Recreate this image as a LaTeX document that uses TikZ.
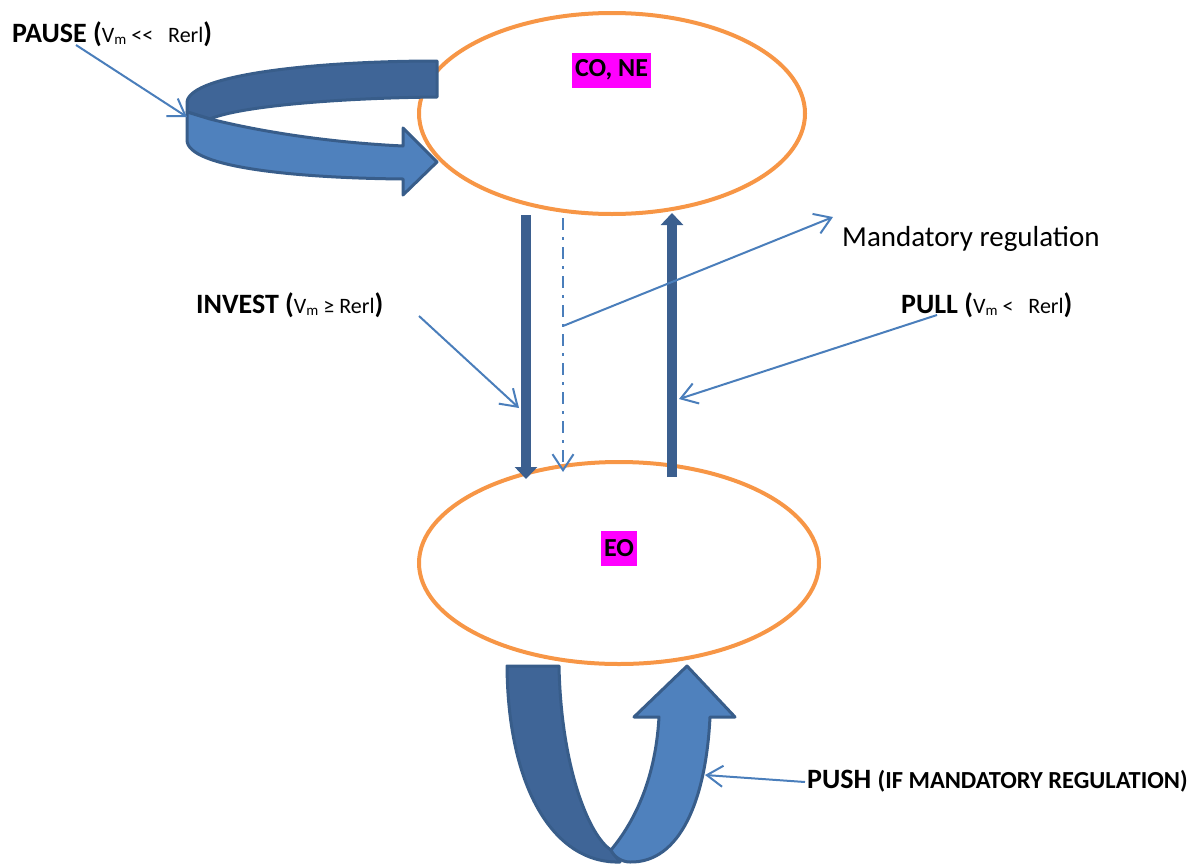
\documentclass[tikz,border=0pt]{standalone}
\usepackage{fontspec}
\setmainfont{Carlito}
\usetikzlibrary{shapes.geometric,arrows.meta}

\definecolor{ringorange}{HTML}{F79646}
\definecolor{tagmagenta}{HTML}{FF00FF}
\definecolor{banddark}{HTML}{3F6597}
\definecolor{bandlight}{HTML}{4F81BD}
\definecolor{bandedge}{HTML}{385D8A}
\definecolor{flowblue}{HTML}{3B5F8F}
\definecolor{linkblue}{HTML}{4A7EBB}

% condition text in brackets and the V_m symbol
\newcommand\condtext[1]{{\fontsize{22}{24}\selectfont #1}}
\newcommand\vsym{V\raisebox{-2pt}{\fontsize{15}{15}\selectfont m}}

\begin{document}
\begin{tikzpicture}[x=1pt,y=-1pt,
  ring/.style={ellipse, draw=ringorange, line width=4pt, inner sep=0pt},
  tagbox/.style={fill=tagmagenta, font=\fontsize{26}{30}\selectfont\bfseries,
    inner xsep=3pt, inner ysep=0pt, minimum height=35pt},
  lbl/.style={inner sep=0pt, anchor=base west, font=\fontsize{28}{32}\selectfont},
  flow/.style={draw=flowblue, line width=10pt, -{Triangle[length=12pt,width=22pt]}},
  link/.style={draw=linkblue, line width=2pt, -{Straight Barb[length=16pt,width=21pt]}},
  dashlink/.style={link, dash pattern=on 12pt off 7pt on 3pt off 7pt},
  band/.style={draw=bandedge, line width=3pt, line join=round}
]
\useasboundingbox (0,0) rectangle (1194,865);

% the two states
\node[ring, minimum width=386pt, minimum height=201pt] (top) at (612,113.5) {};
\node[ring, minimum width=400pt, minimum height=202pt] (bot) at (619,563) {};
\node[tagbox] (cone) at (611.5,70) {CO, NE};
\node[tagbox] (eo) at (619,548.5) {EO};

% self loop on the upper state (pause)
\filldraw[band, fill=banddark] (437,61) -- (437,97)
  .. controls (340,98) and (240,106) .. (210,119) -- (187,112) -- (187,102)
  .. controls (190,74) and (320,61) .. (437,61) -- cycle;
\filldraw[band, fill=bandlight] (187,112) -- (210,119)
  .. controls (270,134) and (340,143) .. (403,146) -- (403,128) -- (437,162)
  -- (403,195) -- (403,179) .. controls (300,178) and (187,168) .. (187,140) -- cycle;

% self loop on the lower state (push)
\filldraw[band, fill=banddark] (507,666) -- (559,666)
  .. controls (561,765) and (588,835) .. (611,850) -- (620,862)
  .. controls (555,864) and (508,790) .. (507,666) -- cycle;
\filldraw[band, fill=bandlight] (611,850)
  .. controls (640,815) and (656,770) .. (659,717) -- (634,717) -- (687,666)
  -- (735,717) -- (710,717) .. controls (706,800) and (680,863) .. (630,862)
  .. controls (622,862) and (614,857) .. (611,850) -- cycle;

% transitions between the states
\coordinate (inv-a) at (526,215);
\coordinate (inv-b) at (526,479);
\coordinate (pul-a) at (672,477);
\coordinate (pul-b) at (672,213);
\coordinate (reg-a) at (563,218);
\coordinate (reg-b) at (563,472);
\coordinate (reg-o) at (563,326);
\coordinate (reg-t) at (833,217);
\draw[flow] (inv-a) -- (inv-b);
\draw[flow] (pul-a) -- (pul-b);
\draw[dashlink] (reg-a) -- (reg-b);

% labels
\node[lbl] (pause) at (12,42) {\textbf{PAUSE (}\condtext{\vsym\ <\kern0pt<\ \ \ Rerl}\textbf{)}};
\node[lbl] (invest) at (196,313) {\textbf{INVEST (}\condtext{\vsym\ ≥ Rerl}\textbf{)}};
\node[lbl] (pull) at (901,313) {\textbf{PULL (}\condtext{\vsym\ <\ \ \ Rerl}\textbf{)}};
\node[lbl, font=\fontsize{29}{33}\selectfont] (mand) at (842,246) {Mandatory regulation};
\node[lbl] (push) at (807,788) {\textbf{PUSH} {\fontsize{24.5}{26}\selectfont\bfseries (IF MANDATORY REGULATION)}};

% pointers from the labels
\coordinate (pause-s) at (76,45);
\coordinate (pause-t) at (187,117);
\coordinate (invest-s) at (419,316);
\coordinate (invest-t) at (519,408);
\coordinate (pull-s) at (937,315);
\coordinate (pull-t) at (679,399);
\coordinate (push-s) at (805,782);
\coordinate (push-t) at (705,775);
\draw[link] (pause-s) -- (pause-t);
\draw[link] (invest-s) -- (invest-t);
\draw[link] (pull-s) -- (pull-t);
\draw[link] (push-s) -- (push-t);
\draw[link] (reg-o) -- (reg-t);
\end{tikzpicture}
\end{document}
